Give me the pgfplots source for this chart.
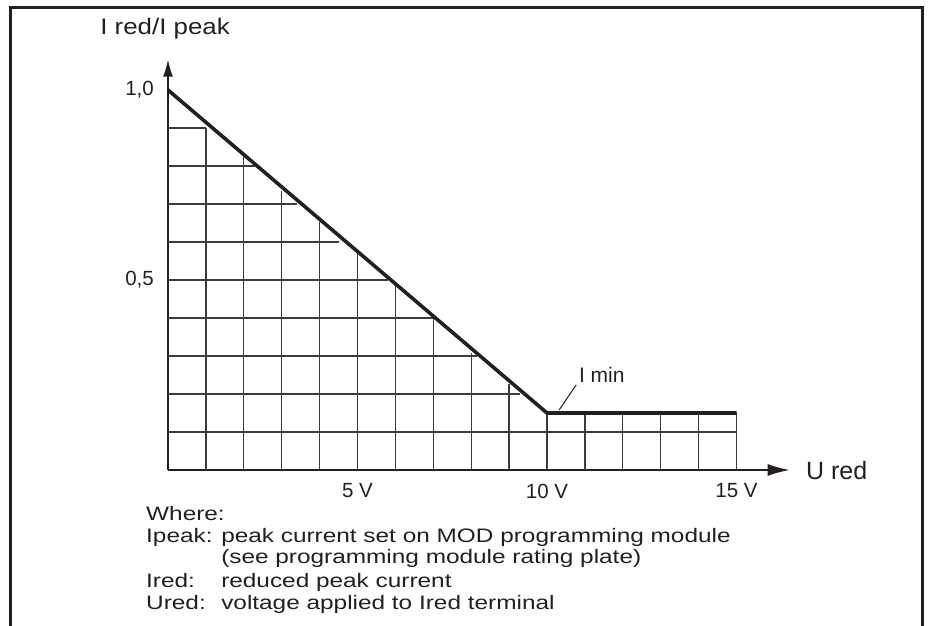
\documentclass[border=0pt]{standalone}
\usepackage{fontspec}
\setmainfont{Liberation Sans}
\newfontfamily\widefont{Liberation Sans}[FakeStretch=1.25]
\newfontfamily\midfont{Liberation Sans}[FakeStretch=1.15]
\usepackage{pgfplots}
\pgfplotsset{compat=1.18}
\usetikzlibrary{arrows.meta}
\definecolor{ink}{HTML}{231F20}
\definecolor{gridc}{HTML}{3C3C3C}
\begin{document}
\begin{tikzpicture}
\begin{axis}[
  scale only axis, width=621.6bp, height=410.4bp,
  xmin=0, xmax=16.4, ymin=0, ymax=1.08,
  axis lines=left,
  axis line style={line width=1.5bp, ink},
  x axis line style={-{Latex[length=22bp,width=12bp]}},
  y axis line style={-{Latex[length=17bp,width=10bp]}},
  xtick={5,10,15}, xticklabels={5 V,10 V,15 V},
  ytick={0.5,1}, yticklabels={{0,5},{1,0}},
  major tick length=0pt,
  tick label style={font=\fontsize{20.5bp}{24bp}\selectfont, text=ink},
  xticklabel style={anchor=center, yshift=-21bp},
  yticklabel style={anchor=east, inner sep=0pt, xshift=-14bp},
  clip=false,
  unbounded coords=jump,
]
% grid under the curve
\addplot[gridc, line width=1.25bp] table {
x y
1 0
1 0.900
nan nan
2 0
2 0.824
nan nan
3 0
3 0.733
nan nan
4 0
4 0.652
nan nan
5 0
5 0.572
nan nan
6 0
6 0.487
nan nan
7 0
7 0.402
nan nan
8 0
8 0.309
nan nan
9 0
9 0.226
nan nan
10 0
10 0.15
nan nan
11 0
11 0.15
nan nan
12 0
12 0.15
nan nan
13 0
13 0.15
nan nan
14 0
14 0.15
nan nan
15 0
15 0.15
nan nan
0 0.9
1 0.9
nan nan
0 0.8
2.3 0.8
nan nan
0 0.7
3.4 0.7
nan nan
0 0.6
4.5 0.6
nan nan
0 0.5
5.81 0.5
nan nan
0 0.4
6.98 0.4
nan nan
0 0.3
8.14 0.3
nan nan
0 0.2
9.29 0.2
nan nan
0 0.1
15 0.1
};
% characteristic
\addplot[ink, line width=3.6bp, line join=miter] coordinates {(0,1) (10,0.15) (15,0.15)};
% leader for I min
\addplot[ink, line width=1bp] coordinates {(10.32,0.158) (10.77,0.224)};
\node[anchor=base west, inner sep=0pt, text=ink, font=\fontsize{21bp}{24bp}\selectfont] at (axis cs:10.84,0.231) {I min};
\node[anchor=base west, inner sep=0pt, text=ink, font=\midfont\fontsize{22.5bp}{26bp}\selectfont] at (axis cs:-1.79,1.147) {I red/I peak};
\node[anchor=base west, inner sep=0pt, text=ink, font=\fontsize{25bp}{28bp}\selectfont] at (axis cs:16.83,-0.024) {U red};
% footnote
\begin{scope}[every node/.style={anchor=base west, inner sep=0pt, text=ink, font=\widefont\fontsize{19.5bp}{22bp}\selectfont}]
\node at (axis cs:-0.58,-0.1342) {Where:};
\node at (axis cs:-0.58,-0.1913) {Ipeak:};
\node at (axis cs:1.40,-0.1913) {peak current set on MOD programming module};
\node at (axis cs:1.40,-0.2455) {(see programming module rating plate)};
\node at (axis cs:-0.58,-0.3087) {Ired:};
\node at (axis cs:1.40,-0.3087) {reduced peak current};
\node at (axis cs:-0.58,-0.3658) {Ured:};
\node at (axis cs:1.40,-0.3658) {voltage applied to Ired terminal};
\end{scope}
\end{axis}
\draw[ink, line width=2.5bp] (-157.5bp,-160bp) -- (-157.5bp,462.5bp) -- (754.5bp,462.5bp) -- (754.5bp,-160bp);
\pgfresetboundingbox
\useasboundingbox (-168bp,-156bp) rectangle (760bp,470bp);
\end{tikzpicture}
\end{document}
